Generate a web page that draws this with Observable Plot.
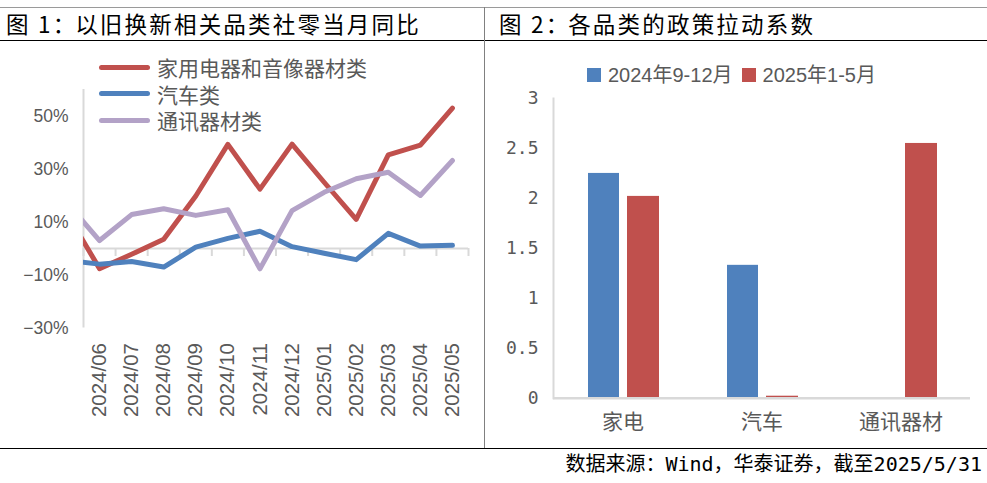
<!DOCTYPE html>
<html><head><meta charset="utf-8">
<script src="https://cdn.jsdelivr.net/npm/d3@7"></script>
<script src="https://cdn.jsdelivr.net/npm/@observablehq/plot@0.6"></script>
<style>
html,body{margin:0;padding:0;background:#fff;}
#wrap{position:relative;width:987px;height:483px;overflow:hidden;background:#fff;font-family:"Noto Sans CJK SC",sans-serif;}
.hl{position:absolute;left:0;width:987px;height:0;}
.title{position:absolute;top:7px;font-family:"Noto Sans CJK SC",sans-serif;font-size:22.5px;letter-spacing:2.2px;color:#000;line-height:32px;white-space:nowrap;}
.colon{letter-spacing:-3px;margin-right:3px;}
.leg{position:absolute;font-size:21px;color:#595959;white-space:nowrap;}
.row{position:absolute;left:0;height:26px;line-height:26px;display:flex;align-items:center;}
.sw{width:51px;height:5px;border-radius:3px;margin-right:7px;}
.sq{display:inline-block;width:14px;height:14px;margin-right:7px;}
#p1{position:absolute;top:42px;left:0;}
#p2{position:absolute;top:42px;left:484px;}
</style></head>
<body><div id="wrap">
<div class="hl" style="top:7px;border-top:1px solid #9a9a9a"></div>
<div class="hl" style="top:40px;border-top:1.5px solid #000"></div>
<div class="hl" style="top:448px;border-top:1.5px solid #000"></div>
<div style="position:absolute;left:484px;top:7px;height:441px;border-left:1.5px solid #808080"></div>
<div class="title" style="left:6px">图 1<span class="colon">：</span>以旧换新相关品类社零当月同比</div>
<div class="title" style="left:499px">图 2<span class="colon">：</span>各品类的政策拉动系数</div>
<div id="p1"></div>
<div id="p2"></div>
<div id="leg1" class="leg" style="left:99px;top:54px;"></div>
<div id="leg2" class="leg" style="left:587px;top:61px;font-family:'Liberation Sans','Noto Sans CJK SC',sans-serif;font-size:20px;display:flex;align-items:center;line-height:28px;"></div>
<div style="position:absolute;right:5px;top:450px;font-family:'DejaVu Sans Mono','Noto Sans CJK SC',monospace;font-size:20px;color:#000;white-space:nowrap;line-height:28px;">数据来源：Wind，华泰证券，截至2025/5/31</div>
</div>
<script>
// ---- Chart 1 data ----
const periods = ["2024/05","2024/06","2024/07","2024/08","2024/09","2024/10","2024/11","2024/12","2025/01","2025/02","2025/03","2025/04","2025/05"];
const shownFrom = 1; // first period is only partially visible (clipped)
const appliance = [12.9, -7.6, -2.2, 3.5, 19.8, 39.3, 22.4, 39.4, 25.0, 11.0, 35.3, 39.0, 53.0];
const autos     = [-4.6, -5.9, -4.9, -7.0, 0.5, 3.8, 6.5, 0.7, -1.8, -4.2, 5.7, 0.9, 1.2];
const telecom   = [17.0, 3.0, 12.8, 15.0, 12.5, 14.6, -7.7, 14.3, 21.2, 26.3, 28.8, 20.0, 33.2];
const seriesNames = ["家用电器和音像器材类","汽车类","通讯器材类"];
const seriesColors = ["#C0504D","#4F81BD","#B3A2C7"];
const yTicks1 = [-30,-10,10,30,50];
const yDomain1 = [-30,60];

// ---- Chart 2 data ----
const cats = ["家电","汽车","通讯器材"];
const period1 = [2.25, 1.33, 0];
const period2 = [2.02, 0.02, 2.55];
const barNames = ["2024年9-12月","2025年1-5月"];
const barColors = ["#4F81BD","#C0504D"];
const yTicks2 = [0,0.5,1,1.5,2,2.5,3];
const yDomain2 = [0,3];

const shown = periods.slice(shownFrom);
const xDomain = [-0.5, shown.length - 0.5];
const boundaries = d3.range(shown.length + 1).map(i => i - 0.5);
const allSeries = [appliance, autos, telecom];
const toRows = arr => arr.map((v, i) => ({x: i - shownFrom, v}));

const grey = "#D9D9D9";
const p1 = Plot.plot({
  width: 484, height: 404,
  marginLeft: 83, marginRight: 16, marginTop: 47, marginBottom: 118.5,
  style: {fontFamily: "'Liberation Sans', Arial, sans-serif", color: "#595959", background: "transparent"},
  x: {type: "linear", domain: xDomain, label: null},
  y: {domain: yDomain1, label: null},
  marks: [
    Plot.ruleX([xDomain[0]], {stroke: grey, strokeWidth: 2}),
    Plot.ruleY([0], {stroke: grey, strokeWidth: 2}),
    Plot.ruleX(boundaries, {y1: 0, y2: 0, insetBottom: -8, stroke: grey, strokeWidth: 2}),
    Plot.axisY({ticks: yTicks1, tickSize: 0, tickPadding: 15, fontSize: 17.5, fill: "#595959", label: null,
      tickFormat: d => (d < 0 ? "\u2212" : "") + Math.abs(d) + "%"}),
    Plot.axisX({ticks: d3.range(shown.length), tickFormat: i => shown[i], tickRotate: -90, label: null,
      tickSize: 0, tickPadding: 15, fontSize: 20.5, fill: "#595959"}),
    ...allSeries.map((s, k) => Plot.line(toRows(s), {x: "x", y: "v", stroke: seriesColors[k], strokeWidth: 5, clip: true}))
  ]
});
document.getElementById("p1").appendChild(p1);

const p2 = Plot.plot({
  width: 503, height: 404,
  marginLeft: 69, marginRight: 17, marginTop: 56, marginBottom: 48.3,
  style: {fontFamily: "'Noto Sans CJK SC', sans-serif", color: "#595959", background: "transparent"},
  x: {type: "band", domain: cats, padding: 0, label: null},
  y: {domain: yDomain2, label: null},
  marks: [
    Plot.barY(cats.map((c, i) => ({c, v: period1[i]})), {x: "c", y: "v", fill: barColors[0], insetLeft: 35, insetRight: 73}),
    Plot.barY(cats.map((c, i) => ({c, v: period2[i]})), {x: "c", y: "v", fill: barColors[1], insetLeft: 74, insetRight: 33}),
    Plot.frame({anchor: "left", stroke: grey, strokeWidth: 2}),
    Plot.ruleY([0], {stroke: grey, strokeWidth: 2.5}),
    Plot.axisY({ticks: yTicks2, tickSize: 0, tickPadding: 15, fontSize: 18, fill: "#595959", label: null,
      fontFamily: "'DejaVu Sans Mono', monospace", tickFormat: d => String(d)}),
    Plot.axisX({tickSize: 0, tickPadding: 16, fontSize: 21, fill: "#595959", label: null})
  ]
});
document.getElementById("p2").appendChild(p2);

// legends
const leg1 = document.getElementById("leg1");
seriesNames.forEach((n, k) => {
  const r = document.createElement("div");
  r.className = "row";
  r.style.top = (k * 26.5) + "px";
  r.innerHTML = `<span class="sw" style="background:${seriesColors[k]}"></span><span>${n}</span>`;
  leg1.appendChild(r);
});
const leg2 = document.getElementById("leg2");
leg2.innerHTML = barNames.map((n, k) =>
  `<span class="sq" style="background:${barColors[k]}"></span><span style="margin-right:${k === 0 ? 9 : 0}px">${n}</span>`).join("");
</script>
</body></html>
